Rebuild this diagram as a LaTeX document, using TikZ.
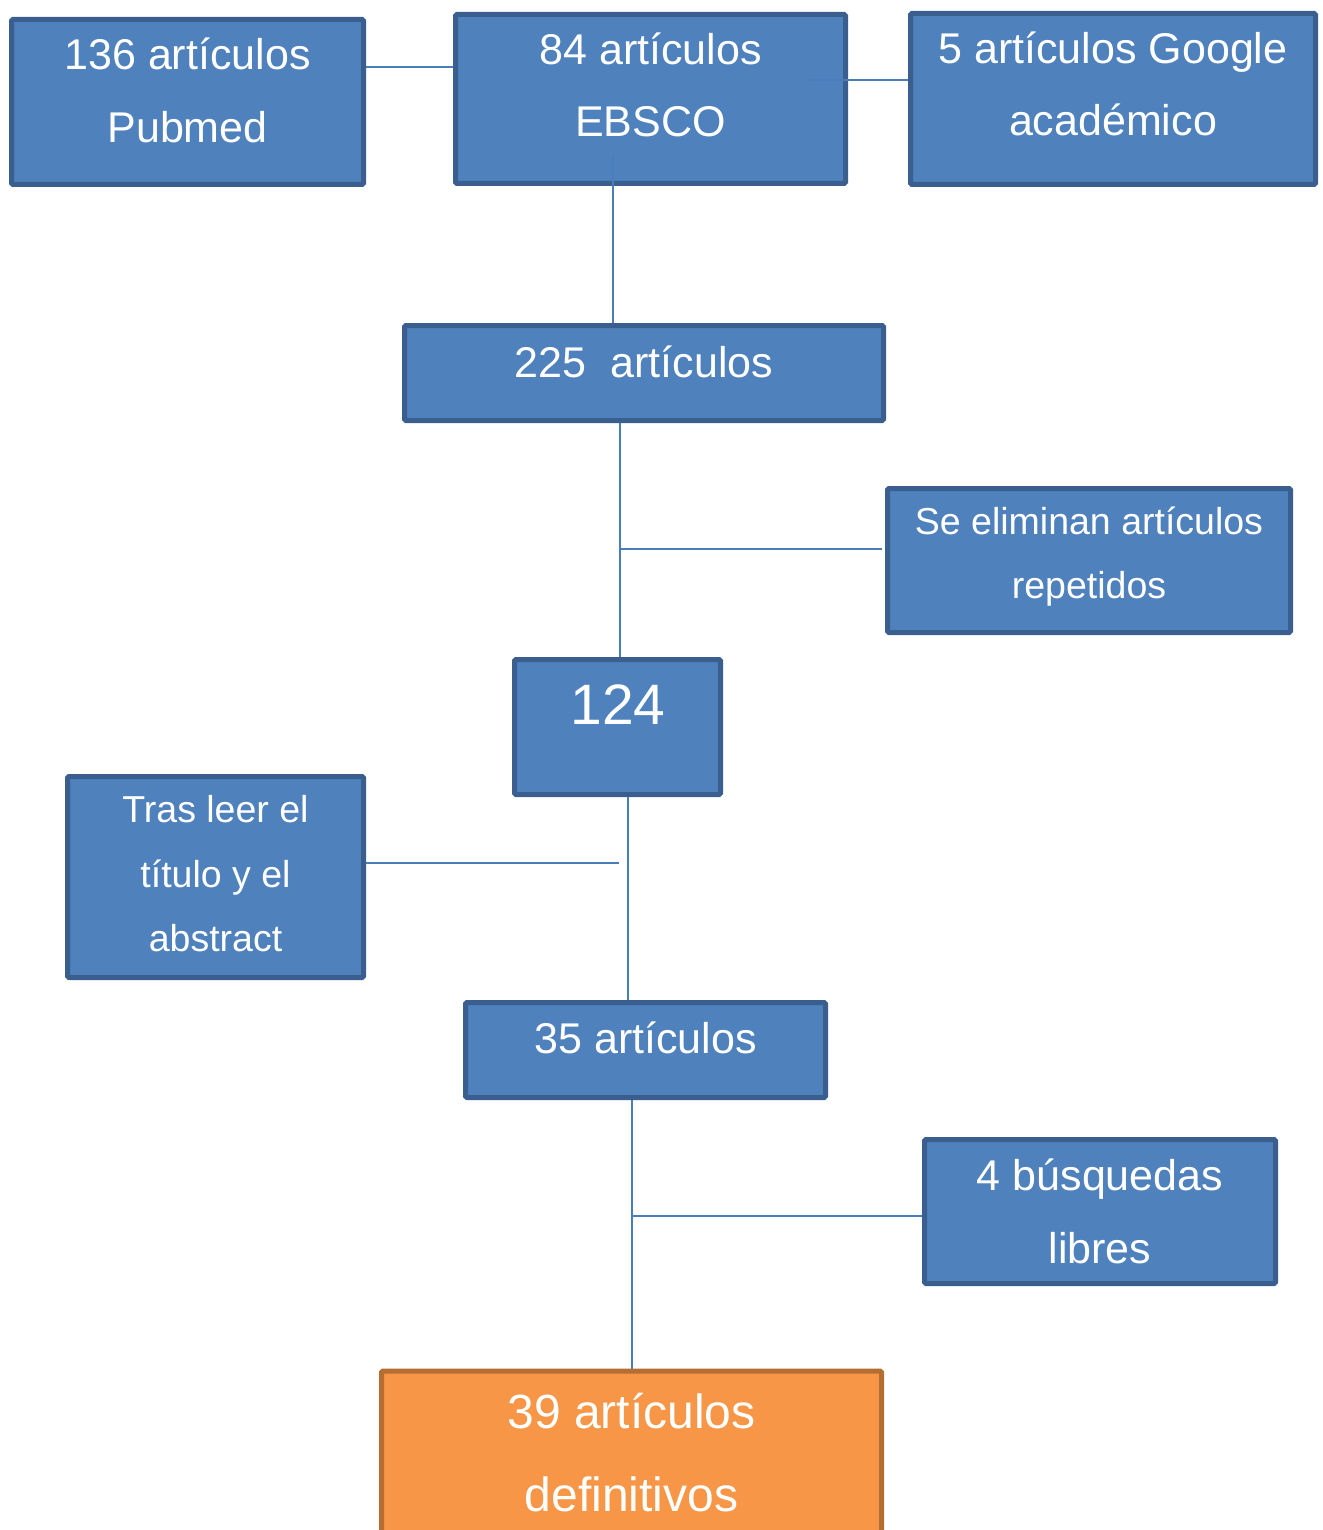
\documentclass[tikz,border=0pt]{standalone}
\usepackage{fontspec}
\setmainfont{Liberation Sans}
\definecolor{boxfill}{HTML}{4F81BD}
\definecolor{boxline}{HTML}{3A5F8E}
\definecolor{orfill}{HTML}{F79646}
\definecolor{orline}{HTML}{B66D31}
\definecolor{conn}{HTML}{4A7EBB}
\tikzset{
  box/.style={draw=boxline, fill=boxfill, line width=5, rectangle, rounded corners=1.5, inner sep=0},
  obox/.style={box, draw=orline, fill=orfill},
  txt/.style={anchor=base, text=white, inner sep=0},
  big/.style={txt, font=\fontsize{43}{50}\selectfont},
  small/.style={txt, font=\fontsize{37.5}{44}\selectfont},
  huge/.style={txt, font=\fontsize{48}{56}\selectfont},
  giant/.style={txt, font=\fontsize{57}{66}\selectfont},
  link/.style={draw=conn, line width=2}
}
\begin{document}
\begin{tikzpicture}[x=1pt,y=-1pt]
\useasboundingbox (0,0) rectangle (1322,1530);
% boxes
\node[box, minimum width=352, minimum height=165] (pub) at (187.5,102) {};
\node[box, minimum width=390, minimum height=169] (ebsco) at (650.5,99) {};
\node[box, minimum width=405, minimum height=171] (google) at (1113,99) {};
\node[box, minimum width=479, minimum height=95] (a225) at (644,373) {};
\node[box, minimum width=403, minimum height=144] (elim) at (1089,560.5) {};
\node[box, minimum width=206, minimum height=135] (n124) at (617.5,727) {};
\node[box, minimum width=296, minimum height=201] (tras) at (215.5,877) {};
\node[box, minimum width=360, minimum height=95] (a35) at (645.5,1050) {};
\node[box, minimum width=351, minimum height=144] (busq) at (1100,1211.5) {};
\node[obox, minimum width=500, minimum height=229] (final) at (631.5,1485.5) {};
% texts
\node[big] (t1a) at (187.5,70) {136 artículos};
\node[big] (t1b) at (187.5,143) {Pubmed};
\node[big] (t2a) at (650.5,65) {84 artículos};
\node[big] (t2b) at (650.5,137) {EBSCO};
\node[big] (t3a) at (1113,64) {5 artículos Google};
\node[big] (t3b) at (1113,136) {académico};
\node[big] (t4) at (644,377) {225\ \ artículos};
\node[small] (t5a) at (1089,534) {Se eliminan artículos};
\node[small] (t5b) at (1089,598) {repetidos};
\node[giant] (t6) at (618,724) {124};
\node[small] (t7a) at (215.5,822) {Tras leer el};
\node[small] (t7b) at (215.5,887) {título y el};
\node[small] (t7c) at (215.5,951) {abstract};
\node[big] (t8) at (645.5,1053) {35 artículos};
\node[big] (t9a) at (1100,1190) {4 búsquedas};
\node[big] (t9b) at (1100,1263) {libres};
\node[huge] (t10a) at (631.5,1428) {39 artículos};
\node[huge] (t10b) at (631.5,1511) {definitivos};
% connectors
\coordinate (c0) at (400,67);
\coordinate (c1) at (808,80);
\coordinate (c2) at (613,155);
\coordinate (j1) at (620,549);
\coordinate (e1) at (882,549);
\coordinate (v2) at (628,863);
\coordinate (e2) at (619,863);
\coordinate (j3) at (632,1216);
\draw[link] (pub.east |- c0) -- (ebsco.west |- c0);
\draw[link] (c1) -- (google.west |- c1);
\draw[link] (c2) -- (c2 |- a225.north);
\draw[link] (j1 |- a225.south) -- (j1 |- n124.north);
\draw[link] (j1) -- (e1);
\draw[link] (v2 |- n124.south) -- (v2 |- a35.north);
\draw[link] (tras.east |- e2) -- (e2);
\draw[link] (j3 |- a35.south) -- (j3 |- final.north);
\draw[link] (j3) -- (busq.west |- j3);
\end{tikzpicture}
\end{document}
